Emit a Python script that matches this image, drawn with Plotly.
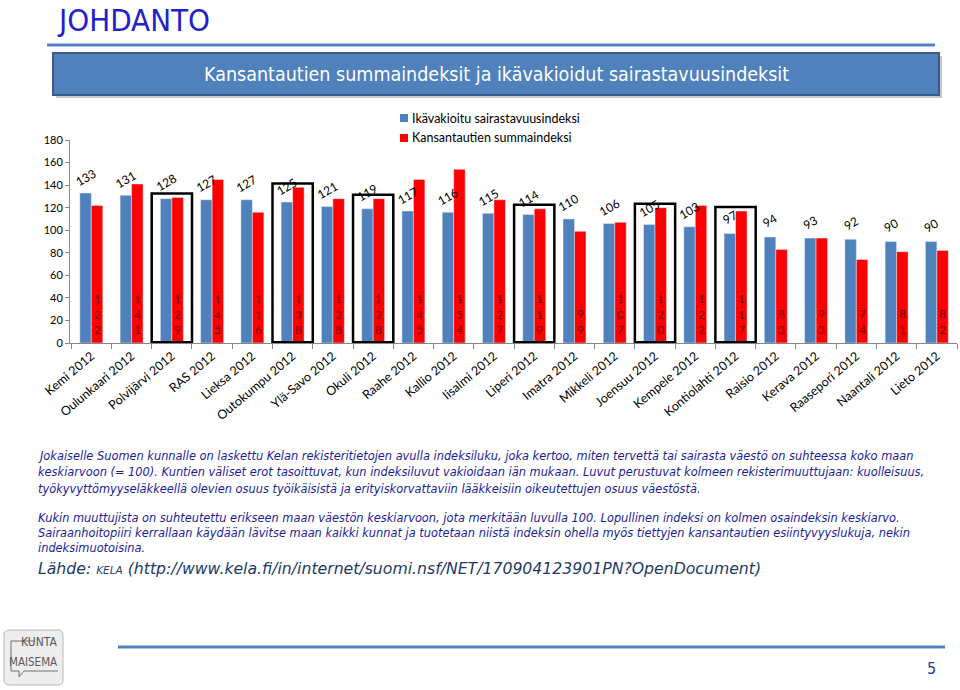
import plotly.graph_objects as go

categories = ["Kemi 2012", "Oulunkaari 2012", "Polvijärvi 2012", "RAS 2012", "Lieksa 2012",
              "Outokumpu 2012", "Ylä-Savo 2012", "Okuli 2012", "Raahe 2012", "Kallio 2012",
              "Iisalmi 2012", "Liperi 2012", "Imatra 2012", "Mikkeli 2012", "Joensuu 2012",
              "Kempele 2012", "Kontiolahti 2012", "Raisio 2012", "Kerava 2012", "Raasepori 2012",
              "Naantali 2012", "Lieto 2012"]
sairastavuus = [133, 131, 128, 127, 127, 125, 121, 119, 117, 116, 115, 114, 110, 106, 105, 103, 97, 94, 93, 92, 90, 90]
summaindeksi = [122, 141, 129, 145, 116, 138, 128, 128, 145, 154, 127, 119, 99, 107, 120, 122, 117, 83, 93, 74, 81, 82]
highlighted = ["Polvijärvi 2012", "Outokumpu 2012", "Okuli 2012", "Liperi 2012", "Joensuu 2012", "Kontiolahti 2012"]
y_ticks = [0, 20, 40, 60, 80, 100, 120, 140, 160, 180]

series_names = ["Ikävakioitu sairastavuusindeksi", "Kansantautien summaindeksi"]
BLUE = "#4f81bd"
RED = "#ff0000"
W, H = 960, 690
CHART_FONT = "Lato, Open Sans, sans-serif"
COND = "DejaVu Sans Condensed, DejaVu Sans, sans-serif"
SANS = "DejaVu Sans, sans-serif"

fig = go.Figure()
fig.add_trace(go.Bar(x=categories, y=sairastavuus, name=series_names[0], marker_color=BLUE,
                     showlegend=False))
fig.add_trace(go.Bar(x=categories, y=summaindeksi, name=series_names[1], marker_color=RED,
                     showlegend=False))

x0_px, x1_px = 70, 957
y0_px, y1_px = 343, 140
BG = 0.43
half = (1 - BG) / 4  # offset of each bar centre from category centre


def px(x):
    return x / W


def py(y):
    return 1 - y / H


shapes = []
annotations = []
for i, (c, b, r) in enumerate(zip(categories, sairastavuus, summaindeksi)):
    annotations.append(dict(x=i - half, y=b, xref="x", yref="y", text=str(b), showarrow=False,
                            textangle=-30, yshift=16,
                            font=dict(family=CHART_FONT, size=12, color="#000000")))
    annotations.append(dict(x=i + half, y=0, xref="x", yref="y", text="<br>".join(str(r)),
                            showarrow=False, yanchor="bottom", yshift=4, align="center",
                            font=dict(family=CHART_FONT, size=12, color="#700000")))
    if c in highlighted:
        shapes.append(dict(type="rect", xref="x", yref="y", x0=i - 0.5, x1=i + 0.5,
                           y0=0.6, y1=max(b, r) + 3.5, line=dict(color="#000000", width=2.5),
                           fillcolor="rgba(0,0,0,0)", layer="above"))

# custom legend
for k, (nm, col) in enumerate(zip(series_names, [BLUE, RED])):
    yc = 118 + 20 * k
    shapes.append(dict(type="rect", xref="paper", yref="paper", x0=px(400), x1=px(408),
                       y0=py(yc + 4), y1=py(yc - 4), fillcolor=col, line=dict(width=0)))
    annotations.append(dict(x=px(410), y=py(yc), xref="paper", yref="paper", xanchor="left",
                            yanchor="middle", text=nm, showarrow=False,
                            font=dict(family=CHART_FONT, size=12.5, color="#000000")))

# Slide decorations
shapes += [
    dict(type="line", xref="paper", yref="paper", x0=px(47), x1=px(935), y0=py(45), y1=py(45),
         line=dict(color="#4f81bd", width=3)),
    dict(type="rect", xref="paper", yref="paper", x0=px(56), x1=px(942), y0=py(98), y1=py(56),
         fillcolor="#909090", line=dict(width=0), layer="below", opacity=0.5),
    dict(type="rect", xref="paper", yref="paper", x0=px(53), x1=px(939), y0=py(95), y1=py(53),
         fillcolor="#4f81bd", line=dict(color="#385d8a", width=2)),
    dict(type="line", xref="paper", yref="paper", x0=px(118), x1=px(945), y0=py(647), y1=py(647),
         line=dict(color="#4f81bd", width=3)),
    dict(type="path", xref="paper", yref="paper",
         path=f"M {px(10)},{py(630)} L {px(58)},{py(630)} Q {px(63)},{py(630)} {px(63)},{py(635)} "
              f"L {px(63)},{py(680)} Q {px(63)},{py(685)} {px(58)},{py(685)} L {px(10)},{py(685)} "
              f"Q {px(4)},{py(685)} {px(4)},{py(680)} L {px(4)},{py(635)} Q {px(4)},{py(630)} {px(10)},{py(630)} Z",
         fillcolor="#ededed", line=dict(color="#b8b8b8", width=1)),
    dict(type="path", xref="paper", yref="paper",
         path=f"M {px(35)},{py(641)} L {px(11)},{py(641)} L {px(11)},{py(671)} L {px(19)},{py(671)} "
              f"L {px(19)},{py(677)} L {px(24)},{py(671)} L {px(58)},{py(671)}",
         line=dict(color="#707070", width=1)),
]

annotations += [
    dict(x=px(55), y=py(20), xref="paper", yref="paper", xanchor="left", yanchor="middle",
         text="JOHDANTO", showarrow=False,
         font=dict(family=COND, size=31, color="#2222c8")),
    dict(x=px(496), y=py(74), xref="paper", yref="paper", xanchor="center", yanchor="middle",
         text="Kansantautien summaindeksit ja ikävakioidut sairastavuusindeksit", showarrow=False,
         font=dict(family=COND, size=19.5, color="#ffffff")),
    dict(x=px(59), y=py(642), xref="paper", yref="paper", xanchor="right", yanchor="middle",
         text="KUNTA", showarrow=False,
         font=dict(family=COND, size=12, color="#5a5a5a")),
    dict(x=px(59), y=py(662), xref="paper", yref="paper", xanchor="right", yanchor="middle",
         text="MAISEMA", showarrow=False,
         font=dict(family=COND, size=11.5, color="#5a5a5a")),
    dict(x=px(931), y=py(668), xref="paper", yref="paper", xanchor="center", yanchor="middle",
         text="5", showarrow=False,
         font=dict(family=COND, size=16, color="#1a3da0")),
]

para_lines = [
    (456, "Jokaiselle Suomen kunnalle on laskettu Kelan rekisteritietojen avulla indeksiluku, joka kertoo, miten tervettä tai sairasta väestö on suhteessa koko maan"),
    (472, "keskiarvoon (= 100). Kuntien väliset erot tasoittuvat, kun indeksiluvut vakioidaan iän mukaan. Luvut perustuvat kolmeen rekisterimuuttujaan: kuolleisuus,"),
    (489, "työkyvyttömyyseläkkeellä olevien osuus työikäisistä ja erityiskorvattaviin lääkkeisiin oikeutettujen osuus väestöstä."),
    (518, "Kukin muuttujista on suhteutettu erikseen maan väestön keskiarvoon, jota merkitään luvulla 100. Lopullinen indeksi on kolmen osaindeksin keskiarvo."),
    (533, "Sairaanhoitopiiri kerrallaan käydään lävitse maan kaikki kunnat ja tuotetaan niistä indeksin ohella myös tiettyjen kansantautien esiintyvyyslukuja, nekin"),
    (548, "indeksimuotoisina."),
]
for yy, t in para_lines:
    annotations.append(dict(x=px(36), y=py(yy), xref="paper", yref="paper", xanchor="left", yanchor="middle",
                            text=f"<i>{t}</i>", showarrow=False,
                            font=dict(family=SANS, size=11.4, color="#1c1c9c")))
annotations.append(dict(x=px(36), y=py(568), xref="paper", yref="paper", xanchor="left", yanchor="middle",
                        text="<i>Lähde: <span style='font-size:10.5px'>KELA</span> (http://www.kela.fi/in/internet/suomi.nsf/NET/170904123901PN?OpenDocument)</i>",
                        showarrow=False,
                        font=dict(family=SANS, size=15.7, color="#1f3a68")))

fig.update_layout(
    width=W, height=H,
    margin=dict(l=0, r=0, t=0, b=0, autoexpand=False),
    paper_bgcolor="#ffffff", plot_bgcolor="#ffffff",
    barmode="group", bargap=BG, bargroupgap=0,
    font=dict(family=CHART_FONT, size=12, color="#000000"),
    showlegend=False,
    xaxis=dict(domain=[px(x0_px), px(x1_px)], type="category", tickangle=-40, automargin=False,
               showline=True, linecolor="#868686", linewidth=1, ticks="outside", ticklen=5,
               tickcolor="#868686", tickson="boundaries", showgrid=False,
               tickfont=dict(family=CHART_FONT, size=12.5, color="#000000")),
    yaxis=dict(domain=[py(y0_px), py(y1_px)], range=[0, 180], tickvals=y_ticks, automargin=False,
               showline=True, linecolor="#868686", linewidth=1, ticks="outside", ticklen=4,
               tickcolor="#868686", showgrid=False, zeroline=False,
               tickfont=dict(family=CHART_FONT, size=11, color="#000000")),
    shapes=shapes, annotations=annotations,
)

fig.write_html("out.html", config={"displayModeBar": False},
               post_script="document.body.style.margin='0px';")
